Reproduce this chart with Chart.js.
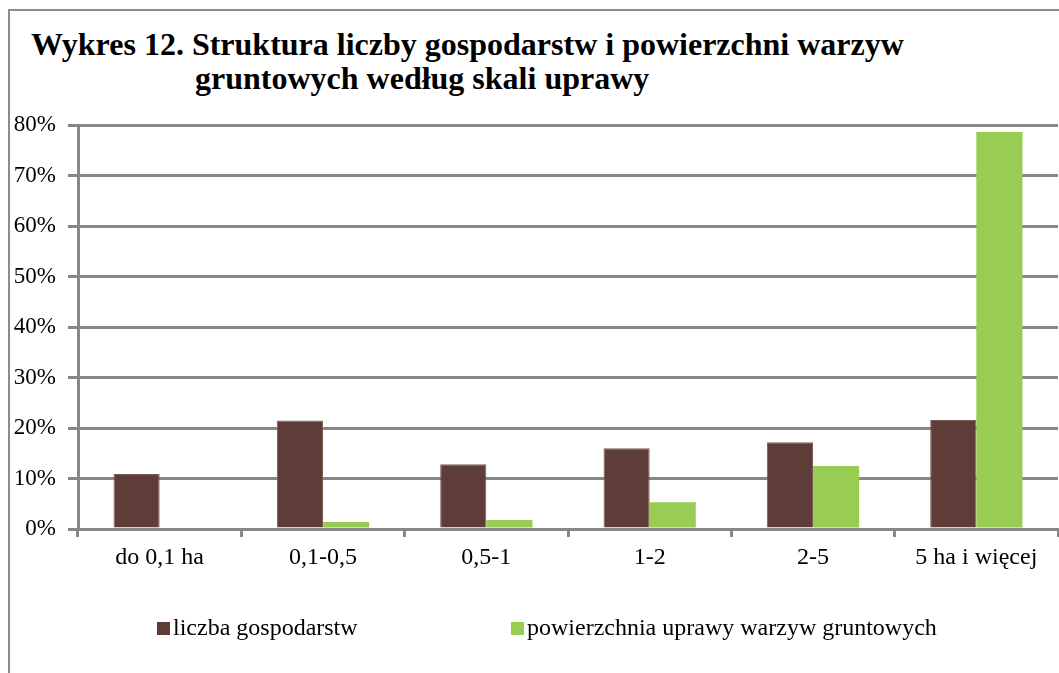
<!DOCTYPE html>
<html>
<head>
<meta charset="utf-8">
<script src="https://cdn.jsdelivr.net/npm/chart.js@4/dist/chart.umd.min.js"></script>
<style>
  html, body { margin: 0; padding: 0; background: #fff; }
  #wrap { position: relative; width: 1059px; height: 673px; overflow: hidden; background: #fff; }
  #frame { position: absolute; left: 8px; top: 9px; width: 1100px; height: 700px; border-left: 2px solid #8c8c8c; border-top: 2px solid #8c8c8c; }
  canvas { position: absolute; left: 0; top: 0; }
  .title { position: absolute; font-family: "Liberation Serif", "Times New Roman", serif; font-weight: bold; font-size: 32px; color: #000; white-space: nowrap; line-height: 1; }
  .leg { position: absolute; font-family: "Liberation Serif", "Times New Roman", serif; font-size: 24px; color: #000; white-space: nowrap; line-height: 1; }
  .leg span.box { display: inline-block; width: 13px; height: 13px; margin-right: 3px; vertical-align: 0px; }
</style>
</head>
<body>
<div id="wrap">
  <div id="frame"></div>
  <div class="title" id="t1" style="left:31px; top:28px;">Wykres 12. Struktura liczby gospodarstw i powierzchni warzyw</div>
  <div class="title" id="t2" style="left:195px; top:62px;">gruntowych według skali uprawy</div>
  <canvas id="c" width="1059" height="673"></canvas>
  <div id="legend"></div>
</div>
<script>
const categories = ["do 0,1 ha", "0,1-0,5", "0,5-1", "1-2", "2-5", "5 ha i więcej"];
const liczbaGospodarstw = [10.9, 21.5, 12.8, 16.0, 17.2, 21.6];
const powierzchniaUprawy = [0.0, 1.4, 1.8, 5.3, 12.5, 78.6];
const seriesNames = ["liczba gospodarstw", "powierzchnia uprawy warzyw gruntowych"];
const yTicks = [0, 10, 20, 30, 40, 50, 60, 70, 80];

const colBrown = "#5e3d38";
const colGreen = "#99cc52";
const gridCol = "#878787";
const serif = "'Liberation Serif', 'Times New Roman', serif";

const chart = new Chart(document.getElementById("c"), {
  type: "bar",
  data: {
    labels: categories,
    datasets: [
      { label: seriesNames[0], data: liczbaGospodarstw, backgroundColor: colBrown, borderColor: "#7a5b56", borderWidth: 1, categoryPercentage: 0.565, barPercentage: 1.0 },
      { label: seriesNames[1], data: powierzchniaUprawy, backgroundColor: colGreen, borderWidth: 0, categoryPercentage: 0.565, barPercentage: 1.0 }
    ]
  },
  options: {
    responsive: false,
    animation: false,
    layout: { padding: { left: 0, right: 1, top: 125, bottom: 100 } },
    plugins: { legend: { display: false }, title: { display: false }, tooltip: { enabled: false } },
    scales: {
      x: {
        grid: { display: true, drawOnChartArea: false, drawTicks: true, tickLength: 8, offset: true, color: gridCol, lineWidth: 3 },
        border: { display: true, color: gridCol, width: 3 },
        ticks: { color: "#000", font: { family: serif, size: 24 }, padding: 6, maxRotation: 0, autoSkip: false },
        afterFit: (s) => { s.height = 44; }
      },
      y: {
        min: 0, max: 80,
        afterBuildTicks: (s) => { s.ticks = yTicks.map(v => ({ value: v })); },
        grid: { color: gridCol, lineWidth: 3, drawTicks: true, tickLength: 10 },
        border: { display: true, color: gridCol, width: 3 },
        ticks: { color: "#000", font: { family: serif, size: 23 }, padding: 12, callback: (v) => v + "%" },
        afterFit: (s) => { s.width = 78; }
      }
    }
  }
});

// HTML legend built from the datasets
const legPos = [{ left: 157 }, { left: 511 }];
const legend = document.getElementById("legend");
chart.data.datasets.forEach((ds, i) => {
  const d = document.createElement("div");
  d.className = "leg";
  d.style.left = legPos[i].left + "px";
  d.style.top = "615px";
  const b = document.createElement("span");
  b.className = "box";
  b.style.background = ds.backgroundColor;
  d.appendChild(b);
  d.appendChild(document.createTextNode(ds.label));
  legend.appendChild(d);
});
</script>
</body>
</html>
